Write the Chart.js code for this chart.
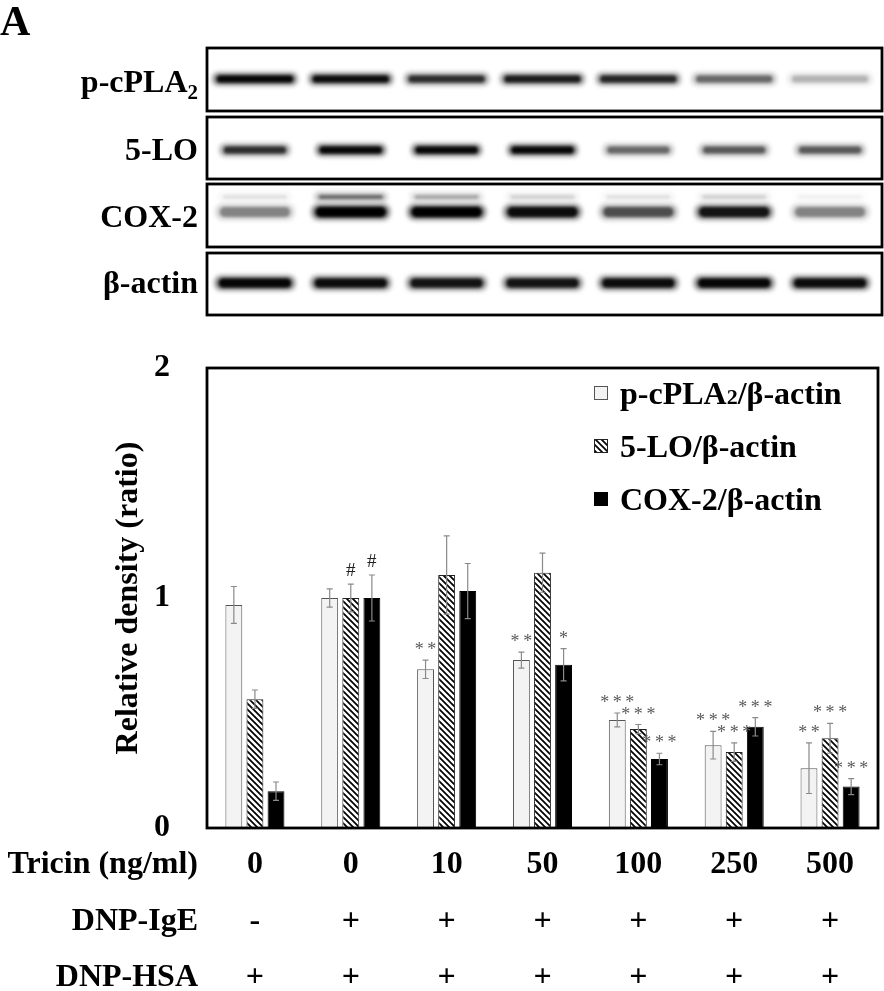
<!DOCTYPE html>
<html>
<head>
<meta charset="utf-8">
<script src="https://cdn.jsdelivr.net/npm/chart.js@4.4.0/dist/chart.umd.min.js"></script>
<style>
  html, body { margin: 0; padding: 0; background: #fff; }
  #wrap { width: 884px; height: 991px; position: relative; }
</style>
</head>
<body>
<div id="wrap"><canvas id="fig"></canvas></div>
<script>
// values
const tricinDose = ['0', '0', '10', '50', '100', '250', '500'];
const dnpIgE = ['-', '+', '+', '+', '+', '+', '+'];
const dnpHSA = ['+', '+', '+', '+', '+', '+', '+'];
const rowTitles = ['Tricin (ng/ml)', 'DNP-IgE', 'DNP-HSA'];

const cpla2Ratio = [0.97, 1.00, 0.69, 0.73, 0.47, 0.36, 0.26];
const cpla2Err   = [0.08, 0.04, 0.04, 0.035, 0.03, 0.06, 0.11];
const loRatio    = [0.56, 1.00, 1.10, 1.11, 0.43, 0.33, 0.39];
const loErr      = [0.04, 0.06, 0.17, 0.085, 0.02, 0.04, 0.065];
const coxRatio   = [0.16, 1.00, 1.03, 0.71, 0.30, 0.44, 0.18];
const coxErr     = [0.04, 0.10, 0.12, 0.07, 0.025, 0.04, 0.035];

const cpla2Sig = ['', '', '**', '**', '***', '***', '**'];
const loSig    = ['', '#', '', '', '***', '***', '***'];
const coxSig   = ['', '#', '', '*', '***', '***', '***'];

const yTicks = [0, 1, 2];

// western blot band strength per lane (0 = nothing, 1 = darkest)
const bandCpla2  = [0.95, 0.9, 0.7, 0.8, 0.75, 0.45, 0.2];
const band5lo    = [0.7, 0.95, 0.95, 0.95, 0.45, 0.5, 0.5];
const bandCox2   = [0.35, 1.0, 1.0, 0.9, 0.55, 0.85, 0.35];
const bandCox2Up = [0.08, 0.45, 0.25, 0.12, 0.08, 0.12, 0.04];
const bandActin  = [0.95, 0.9, 0.85, 0.85, 0.9, 0.95, 0.9];

const SERIF = '"Liberation Serif", "Times New Roman", serif';
const bold = (size) => `bold ${size}px ${SERIF}`;

// layout of the blot panel (pixels)
const blotLeft = 207, blotRight = 882, blotLabelX = 198;
const blotRows = [
  { parts: [['p-cPLA', 32, 0], ['2', 21, 7]], top: 48, bottom: 111, textY: 82,
    bands: [{ y: 79, h: 10, w: 84, vals: bandCpla2 }] },
  { parts: [['5-LO', 32, 0]], top: 117, bottom: 179, textY: 150,
    bands: [{ y: 150, h: 10, w: 70, vals: band5lo }] },
  { parts: [['COX-2', 32, 0]], top: 184, bottom: 247, textY: 217,
    bands: [{ y: 197, h: 7, w: 72, vals: bandCox2Up }, { y: 212, h: 13, w: 78, vals: bandCox2 }] },
  { parts: [['β-actin', 32, 0]], top: 253, bottom: 315, textY: 283,
    bands: [{ y: 283, h: 12, w: 80, vals: bandActin }] }
];

const legendRows = [
  { ds: 0, y: 393, parts: [['p-cPLA', 32], ['2', 22], ['/β-actin', 32]] },
  { ds: 1, y: 446, parts: [['5-LO/β-actin', 32]] },
  { ds: 2, y: 499, parts: [['COX-2/β-actin', 32]] }
];

function hatch() {
  const c = document.createElement('canvas');
  c.width = 6; c.height = 6;
  const g = c.getContext('2d');
  g.fillStyle = '#fff';
  g.fillRect(0, 0, 6, 6);
  g.strokeStyle = '#000';
  g.lineWidth = 1.7;
  g.beginPath();
  g.moveTo(-1, -1); g.lineTo(7, 7);
  g.moveTo(-1, 5); g.lineTo(1, 7);
  g.moveTo(5, -1); g.lineTo(7, 1);
  g.stroke();
  return g.createPattern(c, 'repeat');
}

function drawParts(ctx, parts, x, y, align) {
  let total = 0;
  parts.forEach(p => { ctx.font = bold(p[1]); total += ctx.measureText(p[0]).width; });
  let cx = align === 'right' ? x - total : x;
  ctx.textAlign = 'left';
  ctx.textBaseline = 'alphabetic';
  parts.forEach(p => {
    ctx.font = bold(p[1]);
    ctx.fillText(p[0], cx, y + (p[2] || 0));
    cx += ctx.measureText(p[0]).width;
  });
}

const blotPlugin = {
  id: 'blot',
  afterDraw(chart) {
    const ctx = chart.ctx, xs = chart.scales.x;
    ctx.save();
    ctx.fillStyle = '#000';
    ctx.font = bold(42);
    ctx.textAlign = 'left';
    ctx.textBaseline = 'alphabetic';
    ctx.fillText('A', 0, 35);
    blotRows.forEach(row => {
      row.bands.forEach(b => {
        b.vals.forEach((v, i) => {
          const cx = xs.getPixelForValue(i);
          ctx.save();
          ctx.filter = 'blur(2.5px)';
          ctx.fillStyle = `rgba(0,0,0,${v * 0.6})`;
          ctx.beginPath();
          ctx.roundRect(cx - b.w / 2, b.y - b.h / 2 - 1, b.w, b.h + 2, b.h / 2);
          ctx.fill();
          ctx.filter = 'blur(1.5px)';
          ctx.fillStyle = `rgba(0,0,0,${v})`;
          ctx.beginPath();
          ctx.roundRect(cx - b.w / 2 + 4, b.y - b.h / 2 + 1.5, b.w - 8, b.h - 3, b.h / 2);
          ctx.fill();
          ctx.restore();
        });
      });
      ctx.lineWidth = 2.8;
      ctx.strokeStyle = '#000';
      ctx.strokeRect(blotLeft, row.top, blotRight - blotLeft, row.bottom - row.top);
      ctx.fillStyle = '#000';
      drawParts(ctx, row.parts, blotLabelX, row.textY + 10, 'right');
    });
    ctx.restore();
  }
};

const framePlugin = {
  id: 'frame',
  afterDraw(chart) {
    const { ctx, chartArea: a } = chart;
    ctx.save();
    ctx.lineWidth = 2.8;
    ctx.strokeStyle = '#000';
    ctx.strokeRect(a.left, a.top, a.right - a.left, a.bottom - a.top);
    ctx.restore();
  }
};

const errorPlugin = {
  id: 'errors',
  afterDatasetsDraw(chart) {
    const ctx = chart.ctx, ys = chart.scales.y;
    ctx.save();
    ctx.strokeStyle = '#8a8a8a';
    ctx.lineWidth = 1.2;
    chart.data.datasets.forEach((ds, di) => {
      chart.getDatasetMeta(di).data.forEach((bar, i) => {
        const top = ys.getPixelForValue(ds.data[i] + ds.err[i]);
        const bot = ys.getPixelForValue(ds.data[i] - ds.err[i]);
        ctx.beginPath();
        ctx.moveTo(bar.x, top); ctx.lineTo(bar.x, bot);
        ctx.moveTo(bar.x - 3, top); ctx.lineTo(bar.x + 3, top);
        ctx.moveTo(bar.x - 3, bot); ctx.lineTo(bar.x + 3, bot);
        ctx.stroke();
        if (ds.sig[i]) {
          const hash = ds.sig[i] === '#';
          ctx.fillStyle = hash ? '#222' : '#5a5a5a';
          ctx.font = `${hash ? 19 : 18}px ${SERIF}`;
          ctx.textAlign = 'center';
          ctx.textBaseline = 'alphabetic';
          ctx.fillText(hash ? '#' : ds.sig[i].split('').join('\u2009'), bar.x, top - (hash ? 8 : 5));
        }
      });
    });
    ctx.restore();
  }
};

const legendPlugin = {
  id: 'boxLegend',
  afterDraw(chart) {
    const ctx = chart.ctx;
    ctx.save();
    legendRows.forEach(r => {
      const ds = chart.data.datasets[r.ds];
      ctx.fillStyle = ds.backgroundColor;
      ctx.fillRect(594, r.y - 7, 14, 14);
      ctx.lineWidth = 1;
      ctx.strokeStyle = ds.borderColor;
      ctx.strokeRect(594.5, r.y - 6.5, 13, 13);
      ctx.fillStyle = '#000';
      drawParts(ctx, r.parts, 620, r.y + 10.5, 'left');
    });
    ctx.restore();
  }
};

const rowTitlePlugin = {
  id: 'rowTitles',
  afterDraw(chart) {
    const ctx = chart.ctx, xs = chart.scales.x;
    const t = xs.options.ticks;
    const lh = t.font.size * t.font.lineHeight;
    ctx.save();
    ctx.fillStyle = '#000';
    ctx.font = bold(t.font.size);
    ctx.textAlign = 'right';
    ctx.textBaseline = 'middle';
    rowTitles.forEach((txt, i) => {
      ctx.fillText(txt, 198, xs.top + t.padding + lh / 2 + i * lh);
    });
    ctx.restore();
  }
};

const tickFont = { family: SERIF, size: 32, weight: 'bold' };

new Chart(document.getElementById('fig'), {
  type: 'bar',
  data: {
    labels: tricinDose,
    datasets: [
      { label: 'p-cPLA2/β-actin', data: cpla2Ratio, err: cpla2Err, sig: cpla2Sig,
        backgroundColor: '#f3f3f3', borderColor: '#555', borderWidth: 1 },
      { label: '5-LO/β-actin', data: loRatio, err: loErr, sig: loSig,
        backgroundColor: hatch(), borderColor: '#222', borderWidth: 1 },
      { label: 'COX-2/β-actin', data: coxRatio, err: coxErr, sig: coxSig,
        backgroundColor: '#000', borderColor: '#000', borderWidth: 1 }
    ]
  },
  options: {
    responsive: true,
    maintainAspectRatio: false,
    animation: false,
    layout: { padding: { top: 368, right: 6, left: 0, bottom: 0 } },
    datasets: { bar: { categoryPercentage: 0.66, barPercentage: 0.8 } },
    plugins: { legend: { display: false }, tooltip: { enabled: false } },
    scales: {
      x: {
        grid: { display: false, drawTicks: false },
        border: { display: false },
        ticks: {
          color: '#000',
          font: { ...tickFont, lineHeight: 1.76 },
          padding: 9,
          maxRotation: 0,
          autoSkip: false,
          callback: (v, i) => [tricinDose[i], dnpIgE[i], dnpHSA[i]]
        },
        afterFit: s => { s.height = 163; }
      },
      y: {
        min: 0,
        max: 2,
        afterBuildTicks: s => { s.ticks = yTicks.map(v => ({ value: v })); },
        grid: { display: false, drawTicks: false },
        border: { display: false },
        ticks: { color: '#000', font: tickFont, padding: 37 },
        title: {
          display: true,
          text: 'Relative density (ratio)',
          color: '#000',
          font: tickFont,
          padding: { top: 110, bottom: 0 }
        },
        afterFit: s => { s.width = 207; }
      }
    }
  },
  plugins: [blotPlugin, framePlugin, errorPlugin, legendPlugin, rowTitlePlugin]
});
</script>
</body>
</html>
